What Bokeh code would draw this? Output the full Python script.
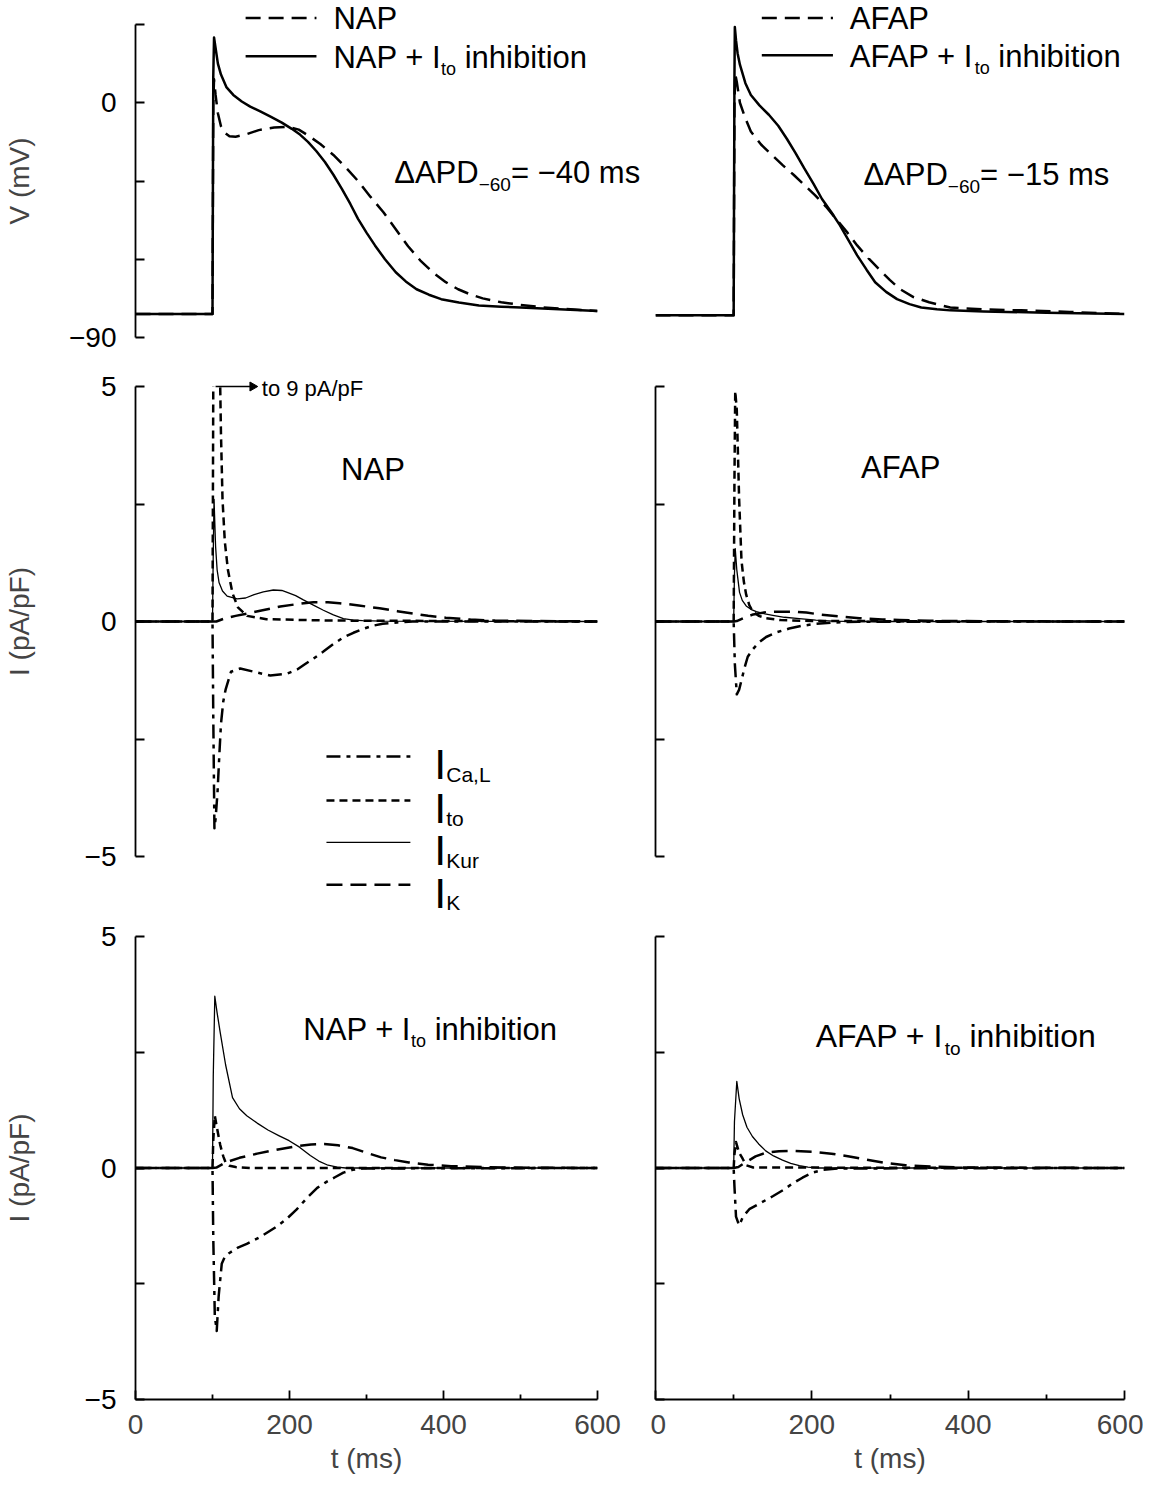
import math
from bokeh.plotting import figure
from bokeh.models import Range1d, FixedTicker
from bokeh.core.properties import value
from bokeh.layouts import gridplot
from bokeh.embed import file_html
from bokeh.resources import INLINE

FONT = "Liberation Sans"

# ---------------- data ----------------
# Action potentials (mV)
t_v_nap = [0, 100, 101, 102, 104, 107, 111, 116, 122, 130, 145, 160, 180, 197, 212, 224, 240, 257, 273, 289,
           305, 322, 338, 354, 370, 386, 403, 419, 435, 451, 475, 500, 530, 554, 580, 600]
v_nap = [-81, -81, 0, 9, 3, -4, -9, -11.5, -12.8, -13, -12, -10.5, -9.5, -9.2, -10.3, -12.5, -15.8, -20, -24.8, -30,
         -36, -42, -48.5, -55, -60.5, -65, -68.8, -71.5, -73.5, -75, -76.5, -77.5, -78.5, -79, -79.5, -79.8]
t_v_nap_inh = [0, 100, 101, 102, 104, 107, 111, 118, 127, 138, 149, 162, 176, 190, 203, 214, 224, 235, 246, 257,
               268, 279, 289, 300, 311, 324, 338, 351, 365, 381, 397, 420, 446, 475, 500, 550, 600]
v_nap_inh = [-81, -81, 10, 25, 21, 15, 10.8, 6, 3, 0.5, -1.5, -3.3, -5.4, -7.6, -10, -12.3, -15, -18.6, -22.7, -27.6,
             -33, -38.8, -44.5, -49.8, -54.7, -60, -65, -68.5, -71.5, -73.6, -75.3, -76.6, -77.7, -78.2, -78.5, -79.2, -79.8]
t_v_afap = [0, 100, 101, 102, 104, 108, 115, 122, 135, 149, 163, 177, 190, 204, 218, 231, 245, 258, 272, 286,
            300, 313, 330, 350, 377, 420, 468, 530, 600]
v_afap = [-81.5, -81.5, 0, 11, 8, 0, -6, -11, -16, -20, -24, -27.7, -31.4, -35.4, -39.8, -44.5, -49.6, -54.7, -59.5, -63.8,
          -68, -71.5, -74.5, -76.5, -78.5, -79.2, -79.6, -80.2, -81]
t_v_afap_inh = [0, 100, 101, 101.5, 103, 105, 108, 115, 122, 133, 145, 157, 168, 179, 190, 202, 213, 225, 236, 247,
                258, 270, 281, 295, 309, 325, 340, 360, 377, 420, 500, 600]
v_afap_inh = [-81.5, -81.5, 10, 29, 24, 19, 14.6, 7.5, 3, -1, -4.6, -8.8, -13.8, -19.2, -25, -31, -36.9, -42, -47, -52.8,
              -58.5, -64, -68.8, -72.5, -75.3, -77.2, -78.5, -79.2, -79.6, -80, -80.5, -81]

# Currents (pA/pF), NAP
t_ito_nap = [0, 100, 101, 102, 103.5, 106, 109, 111, 113, 116, 120, 126, 133, 145, 170, 250, 600]
i_ito_nap = [0, 0, 5, 8, 9, 8.3, 6, 4, 2.6, 1.7, 1.1, 0.6, 0.3, 0.12, 0.05, 0.02, 0]
t_kur_nap = [0, 100, 101, 102, 104, 106, 108.5, 113, 119, 132, 143, 154, 166, 179, 190, 197, 208, 218, 231, 244,
             257, 270, 283, 295, 320, 600]
i_kur_nap = [0, 0, 1.5, 2.6, 1.6, 1.1, 0.83, 0.65, 0.54, 0.48, 0.5, 0.57, 0.63, 0.67, 0.66, 0.62, 0.55, 0.46, 0.35, 0.24,
             0.14, 0.06, 0.03, 0.02, 0.01, 0]
t_ik_nap = [0, 100, 105, 115, 130, 145, 165, 188, 210, 231, 250, 265, 290, 317, 340, 360, 380, 403, 435, 467, 520, 600]
i_ik_nap = [0, 0, 0.0, 0.06, 0.12, 0.17, 0.24, 0.32, 0.37, 0.41, 0.41, 0.39, 0.34, 0.28, 0.22, 0.17, 0.12, 0.08, 0.04, 0.02, 0.01, 0]
t_cal_nap = [0, 100, 101, 102.5, 104, 106.5, 109, 111, 114, 117, 124, 136, 154, 175, 197, 210, 218, 231, 244, 257,
             270, 283, 295, 308, 321, 340, 360, 600]
i_cal_nap = [0, 0, -2, -4.4, -4.2, -3.64, -2.8, -2.18, -1.7, -1.45, -1.07, -1.0, -1.07, -1.15, -1.11, -1.02, -0.93, -0.79, -0.64, -0.48,
             -0.34, -0.24, -0.16, -0.09, -0.05, -0.02, 0, 0]

# Currents, AFAP
t_ito_afap = [0, 100, 101, 102, 104, 107, 110, 113, 116, 120, 124.5, 132, 141.5, 160, 200, 600]
i_ito_afap = [0, 0, 3, 4.9, 4.5, 2.6, 1.3, 0.85, 0.57, 0.35, 0.21, 0.12, 0.07, 0.03, 0.01, 0]
t_kur_afap = [0, 100, 101, 102, 104, 107.5, 111, 116, 122, 129, 140, 150, 165, 184, 205, 227, 260, 600]
i_kur_afap = [0, 0, 1.0, 1.55, 1.1, 0.62, 0.45, 0.33, 0.26, 0.21, 0.16, 0.13, 0.09, 0.06, 0.03, 0.01, 0, 0]
t_ik_afap = [0, 100, 104, 112, 125, 141.5, 160, 176, 193, 210, 235, 261, 290, 312, 350, 420, 600]
i_ik_afap = [0, 0, 0.01, 0.07, 0.15, 0.2, 0.21, 0.21, 0.19, 0.15, 0.11, 0.07, 0.045, 0.03, 0.015, 0.005, 0]
t_cal_afap = [0, 100, 101.5, 104, 107, 110, 114, 118, 124, 132, 141.5, 155, 171, 188, 205, 230, 260, 600]
i_cal_afap = [0, 0, -0.9, -1.55, -1.45, -1.25, -0.98, -0.75, -0.6, -0.45, -0.33, -0.23, -0.15, -0.09, -0.05, -0.02, -0.005, 0]

# Currents, NAP + Ito inhibition
t_kur_nap_inh = [0, 100, 101, 103, 106, 110, 117, 126, 135, 144.5, 158, 172, 186, 199.5, 213, 227, 238, 250, 262, 273, 290, 600]
i_kur_nap_inh = [0, 0, 2, 3.71, 3.35, 2.93, 2.23, 1.52, 1.28, 1.13, 0.97, 0.82, 0.7, 0.59, 0.45, 0.27, 0.15, 0.06, 0.02, 0, 0, 0]
t_ito_nap_inh = [0, 100, 101, 103, 106, 110, 114, 117, 122, 130, 150, 600]
i_ito_nap_inh = [0, 0, 0.6, 1.13, 0.85, 0.5, 0.25, 0.12, 0.05, 0.02, 0.0, 0]
t_ik_nap_inh = [0, 100, 105, 117, 135, 158, 185, 209, 228, 245, 263, 282, 300, 319, 337, 355, 380, 410, 460, 520, 600]
i_ik_nap_inh = [0, 0, 0.01, 0.12, 0.22, 0.31, 0.4, 0.47, 0.51, 0.52, 0.49, 0.43, 0.33, 0.23, 0.17, 0.12, 0.07, 0.04, 0.015, 0.005, 0]
t_cal_nap_inh = [0, 100, 101, 103, 105.5, 108, 112, 116, 121.5, 133, 144.5, 163, 181, 195, 209, 222, 236, 248, 259, 270, 282, 295, 600]
i_cal_nap_inh = [0, 0, -1.5, -3.2, -3.52, -2.77, -2.07, -1.92, -1.84, -1.72, -1.64, -1.48, -1.29, -1.12, -0.9, -0.66, -0.43, -0.3,
                 -0.2, -0.1, -0.04, -0.01, 0]

# Currents, AFAP + Ito inhibition
t_kur_afap_inh = [0, 100, 101, 104, 107, 111.5, 117, 124, 132, 141, 151, 162.5, 173, 184, 195, 210, 600]
i_kur_afap_inh = [0, 0, 1.0, 1.87, 1.5, 1.15, 0.88, 0.68, 0.52, 0.37, 0.26, 0.17, 0.1, 0.05, 0.02, 0.0, 0]
t_ito_afap_inh = [0, 100, 101, 103, 104, 107, 111.5, 116, 125, 600]
i_ito_afap_inh = [0, 0, 0.3, 0.56, 0.5, 0.33, 0.2, 0.06, 0.01, 0]
t_ik_afap_inh = [0, 100, 106, 116, 128, 141, 158, 175, 201, 225, 248, 270, 294.5, 320, 354, 400, 600]
i_ik_afap_inh = [0, 0, 0.02, 0.13, 0.25, 0.33, 0.36, 0.37, 0.35, 0.31, 0.25, 0.18, 0.11, 0.06, 0.03, 0.01, 0]
t_cal_afap_inh = [0, 100, 101, 103, 107, 112, 120, 135, 150, 163, 175, 188, 201, 215, 235, 600]
i_cal_afap_inh = [0, 0, -0.4, -1.05, -1.24, -1.05, -0.89, -0.75, -0.61, -0.48, -0.34, -0.21, -0.1, -0.04, -0.01, 0]

# axes
t_range = [0, 600]
v_range = [-90, 30]
i_range = [-5, 5]
t_major = [0, 200, 400, 600]
t_minor = [100, 300, 500]
v_major = [-90, 0]
v_minor = [-60, -30, 30]
i_major = [-5, 0, 5]
i_minor = [-2.5, 2.5]

# ---------------- styles ----------------
DASH_V = "15 8"
DASH_TO = "8 5"
DASH_K = "16 8"
DASH_CA = "14 6 4 6"
LW = 2.5
LW_KUR = 1.3
FS_TXT, FS_SUB = 31, 18
FS_APD, FS_APD_SUB = 31, 19
BASE_FIX = 0.33   # empirical correction of the rendered alphabetic baseline (fraction of font size)

AW = {' ': 278, '+': 584, 'A': 667, 'D': 722, 'F': 611, 'I': 278, 'K': 667, 'L': 556, 'N': 722, 'P': 667,
      'a': 556, 'b': 556, 'h': 556, 'i': 222, 'm': 833, 'n': 556, 'o': 556, 'p': 556, 'r': 333, 's': 500,
      't': 278, 'u': 556, 'C': 722, ',': 278, '=': 584, '\u2212': 584, '/': 278, '\u0394': 668, '(': 333, ')': 333}


def textw(s):
    return sum(AW.get(c, 556) for c in s) / 1000.0


def rich(p, x, y, parts, fs, sub_fs, sub_drop, base_off=None):
    """Text with subscripts, drawn as unclipped text glyphs. y = centre of the main caps
    (or base_off px above the baseline)."""
    if base_off is None:
        base_off = 0.358 * fs
    off = 0.0
    for txt, sub in parts:
        size = sub_fs if sub else fs
        lead = len(txt) - len(txt.lstrip(' '))
        off += lead * 0.278 * size
        txt = txt.lstrip(' ')
        yo = base_off + (sub_drop if sub else 0) - BASE_FIX * size
        p.text(x=[x], y=[y], text=[txt], x_offset=off, y_offset=yo, text_font=value(FONT),
               text_font_size=value(f"{size}px"), text_baseline="alphabetic", text_align="left",
               text_color="black", level="overlay")
        off += textw(txt) * size


def sample(p, x0, x1, y, dash, width):
    p.line([x0, x1], [y, y], line_color="black", line_width=width, line_dash=dash, level="overlay")


def make_fig(width, height, yr, bl, br, bt, bb, xaxis, yaxis):
    p = figure(width=width, height=height, x_range=Range1d(*t_range), y_range=Range1d(*yr),
               output_backend="svg", toolbar_location=None,
               x_axis_location="below" if xaxis else None,
               y_axis_location="left" if yaxis else None,
               min_border_left=bl, min_border_right=br, min_border_top=bt, min_border_bottom=bb)
    p.outline_line_color = None
    p.background_fill_color = "white"
    p.border_fill_color = "white"
    for g in p.grid:
        g.grid_line_color = None
    return p


def style_y(p, major, minor, label, label_standoff, labels=True):
    ax = p.yaxis[0]
    ax.ticker = FixedTicker(ticks=major, minor_ticks=minor)
    ax.axis_line_width = 1.8
    ax.major_tick_line_width = 1.8
    ax.minor_tick_line_width = 1.8
    ax.major_tick_in = 9
    ax.major_tick_out = 0
    ax.minor_tick_in = 9
    ax.minor_tick_out = 0
    ax.major_label_text_font = FONT
    ax.major_label_text_font_size = "28px"
    ax.major_label_text_color = "black"
    ax.major_label_standoff = 19 if labels else 0
    ax.major_label_overrides = {"-90": "\u221290", "-5": "\u22125"}
    if label:
        ax.axis_label = label
        ax.axis_label_text_font = FONT
        ax.axis_label_text_font_size = "28px"
        ax.axis_label_text_font_style = "normal"
        ax.axis_label_standoff = label_standoff


def style_x(p):
    ax = p.xaxis[0]
    ax.ticker = FixedTicker(ticks=t_major, minor_ticks=t_minor)
    ax.axis_line_width = 1.8
    ax.major_tick_line_width = 1.8
    ax.minor_tick_line_width = 1.8
    ax.major_tick_in = 9
    ax.major_tick_out = 0
    ax.minor_tick_in = 5
    ax.minor_tick_out = 0
    ax.major_label_text_font = FONT
    ax.major_label_text_font_size = "28px"
    ax.major_label_standoff = 15
    ax.axis_label = "t (ms)"
    ax.axis_label_text_font = FONT
    ax.axis_label_text_font_size = "28px"
    ax.axis_label_text_font_style = "normal"
    ax.axis_label_standoff = 6


def trace(p, t, y, dash, width):
    p.line(t, y, line_color="black", line_width=width, line_dash=dash, line_join="round")


def currents(p, tk, ik, tt, it, tku, iku, tc, ic):
    trace(p, tk, ik, DASH_K, LW)
    trace(p, tt, it, DASH_TO, LW)
    trace(p, tc, ic, DASH_CA, LW)
    trace(p, tku, iku, "solid", LW_KUR)


W_L, W_R = 650, 493
H_T, H_M, H_B = 363, 553, 560
BL_L, BR_L = 129, 53
BL_R, BR_R = 5, 19

# ---- top-left: NAP action potentials
p1 = make_fig(W_L, H_T, v_range, BL_L, BR_L, 24, 26, False, True)
style_y(p1, v_major, v_minor, "V (mV)", 31)
trace(p1, t_v_nap, v_nap, DASH_V, LW)
trace(p1, t_v_nap_inh, v_nap_inh, "solid", LW)
sample(p1, 143, 235, 32.5, DASH_V, LW)
sample(p1, 143, 235, 17.8, "solid", LW)
rich(p1, 257, 32.5, [("NAP", False)], FS_TXT, FS_SUB, 8)
rich(p1, 257, 17.8, [("NAP + I", False), ("to", True), (" inhibition", False)], FS_TXT, FS_SUB, 8)
rich(p1, 336, -26.5, [("\u0394APD", False), ("\u221260", True), ("= \u221240 ms", False)], FS_APD, FS_APD_SUB, 8)

# ---- top-right: AFAP action potentials
p2 = make_fig(W_R, H_T, v_range, BL_R, BR_R, 24, 26, False, False)
trace(p2, t_v_afap, v_afap, DASH_V, LW)
trace(p2, t_v_afap_inh, v_afap_inh, "solid", LW)
sample(p2, 136, 227, 32.5, DASH_V, LW)
sample(p2, 136, 227, 18.2, "solid", LW)
rich(p2, 248.5, 32.5, [("AFAP", False)], FS_TXT, FS_SUB, 8)
rich(p2, 248.5, 18.2, [("AFAP + I", False), ("to", True), (" inhibition", False)], FS_TXT, FS_SUB, 8)
rich(p2, 266, -27, [("\u0394APD", False), ("\u221260", True), ("= \u221215 ms", False)], FS_APD, FS_APD_SUB, 8)

# ---- middle-left: NAP currents
p3 = make_fig(W_L, H_M, i_range, BL_L, BR_L, 23, 60, False, True)
style_y(p3, i_major, i_minor, "I (pA/pF)", 47)
currents(p3, t_ik_nap, i_ik_nap, t_ito_nap, i_ito_nap, t_kur_nap, i_kur_nap, t_cal_nap, i_cal_nap)
rich(p3, 267, 3.26, [("NAP", False)], FS_TXT, FS_SUB, 8)
p3.line([104, 150], [5, 5], line_color="black", line_width=1.5, level="overlay")
p3.scatter([152], [5], marker="triangle", size=9, angle=-math.pi / 2, color="black", level="overlay")
rich(p3, 164, 4.97, [("to 9 pA/pF", False)], 22, 14, 5)
leg = [(-2.87, DASH_CA, LW, "Ca,L"), (-3.81, DASH_TO, LW, "to"), (-4.7, "solid", LW_KUR, "Kur"), (-5.6, DASH_K, LW, "K")]
for yy, dash, lw, sub in leg:
    sample(p3, 248, 357, yy, dash, lw)
    rich(p3, 388, yy, [("I", False), (sub, True)], 43, 21, 3, base_off=22)

# ---- middle-right: AFAP currents
p4 = make_fig(W_R, H_M, i_range, BL_R, BR_R, 23, 60, False, True)
style_y(p4, [], i_major + i_minor, None, 0, labels=False)
currents(p4, t_ik_afap, i_ik_afap, t_ito_afap, i_ito_afap, t_kur_afap, i_kur_afap, t_cal_afap, i_cal_afap)
rich(p4, 263, 3.3, [("AFAP", False)], FS_TXT, FS_SUB, 8)

# ---- bottom-left: NAP + Ito inhibition currents
p5 = make_fig(W_L, H_B, i_range, BL_L, BR_L, 20, 70, True, True)
style_y(p5, i_major, i_minor, "I (pA/pF)", 47)
style_x(p5)
currents(p5, t_ik_nap_inh, i_ik_nap_inh, t_ito_nap_inh, i_ito_nap_inh, t_kur_nap_inh, i_kur_nap_inh,
         t_cal_nap_inh, i_cal_nap_inh)
rich(p5, 218, 3.02, [("NAP + I", False), ("to", True), (" inhibition", False)], FS_TXT, FS_SUB, 8)

# ---- bottom-right: AFAP + Ito inhibition currents
p6 = make_fig(W_R, H_B, i_range, BL_R, BR_R, 20, 70, True, True)
style_y(p6, [], i_major + i_minor, None, 0, labels=False)
style_x(p6)
currents(p6, t_ik_afap_inh, i_ik_afap_inh, t_ito_afap_inh, i_ito_afap_inh, t_kur_afap_inh, i_kur_afap_inh,
         t_cal_afap_inh, i_cal_afap_inh)
rich(p6, 205, 2.87, [("AFAP + I", False), ("to", True), (" inhibition", False)], 32, 19, 8)

grid = gridplot([[p1, p2], [p3, p4], [p5, p6]], toolbar_location=None)

open("out.html", "w").write(file_html(grid, INLINE))
